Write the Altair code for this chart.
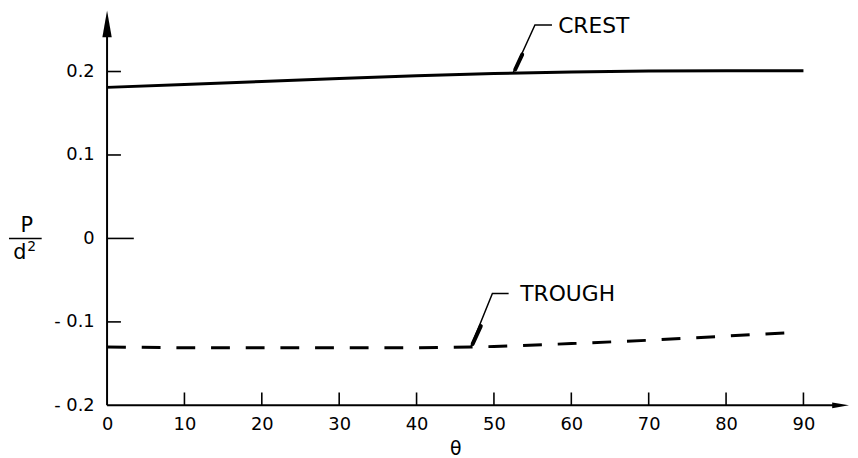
import altair as alt
import pandas as pd

# ---- data ----
crest_theta = [0, 10, 20, 30, 40, 50, 60, 70, 80, 90]
crest_val = [0.181, 0.1845, 0.188, 0.1915, 0.195, 0.1975, 0.1995, 0.2005, 0.201, 0.201]

trough_theta = [0, 10, 20, 30, 40, 47, 50, 60, 70, 80, 88]
trough_val = [-0.130, -0.131, -0.131, -0.131, -0.131, -0.130, -0.1295, -0.126, -0.122, -0.117, -0.113]

x_ticks = [10, 20, 30, 40, 50, 60, 70, 80, 90]
x_labels = [0, 10, 20, 30, 40, 50, 60, 70, 80, 90]
y_ticks_short = [0.2, 0.1, -0.1]
y_ticks_long = [0.0]
y_labels = [0.2, 0.1, 0.0, -0.1, -0.2]

# annotation leaders (theta, value) and labels
crest_leader_x = [52.5, 55.3, 57.5]
crest_leader_y = [0.1988, 0.2558, 0.2558]
crest_thick_x = [52.75, 53.65]
crest_thick_y = [0.2024, 0.2202]
crest_text = ["CREST"]
crest_text_x = [58.3]
crest_text_y = [0.2463]

trough_leader_x = [47.0, 49.8, 51.9]
trough_leader_y = [-0.130, -0.0659, -0.0659]
trough_thick_x = [47.25, 48.3]
trough_thick_y = [-0.1264, -0.105]
trough_text = ["TROUGH"]
trough_text_x = [53.4]
trough_text_y = [-0.0754]

W, H = 703, 396
FONT = "DejaVu Sans"
xs = alt.Scale(domain=[0, 90], nice=False, zero=False)
ys = alt.Scale(domain=[-0.2, 0.27], nice=False, zero=False)

XAXIS = alt.Axis(values=x_labels, ticks=False, domain=False, grid=False,
                 labelPadding=10, labelFontSize=18, labelFont=FONT,
                 labelColor="black", labelFlush=False, labelOverlap=False,
                 title="θ", titleFont=FONT, titleFontSize=19,
                 titleFontWeight="normal", titleColor="black", titlePadding=7)
YAXIS = alt.Axis(values=y_labels, ticks=False, domain=False, grid=False,
                 labelPadding=13, labelFontSize=18, labelFont=FONT,
                 labelColor="black", labelOverlap=False, title=None,
                 labelExpr="datum.value == 0 ? '0' : (datum.value < 0 ? '- ' + format(-datum.value, '.1f') : format(datum.value, '.1f'))")


def X(field="x"):
    return alt.X(f"{field}:Q", scale=xs, axis=XAXIS)


def Y(field="y"):
    return alt.Y(f"{field}:Q", scale=ys, axis=YAXIS)


# axis lines
yline = alt.Chart(pd.DataFrame({"x": [0], "y": [-0.2], "y2": [0.245]})).mark_rule(
    color="black", strokeWidth=2).encode(x=X(), y=Y(), y2="y2:Q")
xline = alt.Chart(pd.DataFrame({"x": [0], "x2": [94], "y": [-0.2]})).mark_rule(
    color="black", strokeWidth=2).encode(x=X(), x2="x2:Q", y=Y())

yarrow = alt.Chart(pd.DataFrame({"x": [0], "y": [0.257]})).mark_point(
    shape="M0,-1L0.35,1L-0.35,1Z", size=729, filled=True, color="black", opacity=1,
    strokeWidth=0).encode(x=X(), y=Y())
xarrow = alt.Chart(pd.DataFrame({"x": [94.8], "y": [-0.2]})).mark_point(
    shape="M1,0L-1,-0.35L-1,0.35Z", size=289, filled=True, color="black", opacity=1,
    strokeWidth=0).encode(x=X(), y=Y())

# ticks (inward)
yt_short = alt.Chart(pd.DataFrame({"x": [0] * len(y_ticks_short), "y": y_ticks_short})).mark_rule(
    color="black", strokeWidth=1.6).encode(x=alt.value(0), x2=alt.value(14), y=Y())
yt_long = alt.Chart(pd.DataFrame({"x": [0], "y": y_ticks_long})).mark_rule(
    color="black", strokeWidth=1.6).encode(x=alt.value(0), x2=alt.value(27), y=Y())
xt = alt.Chart(pd.DataFrame({"x": x_ticks})).mark_rule(
    color="black", strokeWidth=1.6).encode(x=X(), y=alt.value(H), y2=alt.value(H - 13))

# y title as fraction P / d²
ytitle_p = alt.Chart(pd.DataFrame({"t": ["P"], "y": [0.0]})).mark_text(
    font=FONT, fontSize=21, color="black", baseline="bottom", dy=-2).encode(
    x=alt.value(-81), y=Y(), text="t:N")
ytitle_d = alt.Chart(pd.DataFrame({"t": ["d"], "y": [0.0]})).mark_text(
    font=FONT, fontSize=21, color="black", baseline="top", dy=4).encode(
    x=alt.value(-88), y=Y(), text="t:N")
ytitle_2 = alt.Chart(pd.DataFrame({"t": ["2"], "y": [0.0]})).mark_text(
    font=FONT, fontSize=14, color="black", baseline="top", dy=2).encode(
    x=alt.value(-76), y=Y(), text="t:N")
ytitle_bar = alt.Chart(pd.DataFrame({"y": [0.0]})).mark_rule(
    color="black", strokeWidth=1.5).encode(x=alt.value(-99), x2=alt.value(-66), y=Y())

# data series
crest = alt.Chart(pd.DataFrame({"x": crest_theta, "y": crest_val})).mark_line(
    color="black", strokeWidth=3).encode(x=X(), y=Y())
trough = alt.Chart(pd.DataFrame({"x": trough_theta, "y": trough_val})).mark_line(
    color="black", strokeWidth=3, strokeDash=[19, 16]).encode(x=X(), y=Y())


# annotations
def leader(xv, yv):
    return alt.Chart(pd.DataFrame({"x": xv, "y": yv, "o": list(range(len(xv)))})).mark_line(
        color="black", strokeWidth=1.5).encode(x=X(), y=Y(), order="o:Q")


def thick(xv, yv):
    return alt.Chart(pd.DataFrame({"x": [xv[0]], "y": [yv[0]], "x2": [xv[1]], "y2": [yv[1]]})).mark_rule(
        color="black", strokeWidth=4, strokeCap="round").encode(x=X(), y=Y(), x2="x2:Q", y2="y2:Q")


def label(t, xv, yv):
    return alt.Chart(pd.DataFrame({"t": t, "x": xv, "y": yv})).mark_text(
        font=FONT, fontSize=22, color="black", align="left", baseline="alphabetic").encode(
        x=X(), y=Y(), text="t:N")


chart = alt.layer(
    yline, xline, yarrow, xarrow, yt_short, yt_long, xt,
    ytitle_p, ytitle_d, ytitle_2, ytitle_bar, crest, trough,
    leader(crest_leader_x, crest_leader_y), thick(crest_thick_x, crest_thick_y),
    label(crest_text, crest_text_x, crest_text_y),
    leader(trough_leader_x, trough_leader_y), thick(trough_thick_x, trough_thick_y),
    label(trough_text, trough_text_x, trough_text_y),
).properties(
    width=W, height=H,
    autosize=alt.AutoSizeParams(type="none"),
    padding={"left": 100, "top": 3, "right": 47, "bottom": 51},
    background="white",
).configure_view(stroke=None)

chart.save("out.html", embed_options={"renderer": "svg", "actions": False})
